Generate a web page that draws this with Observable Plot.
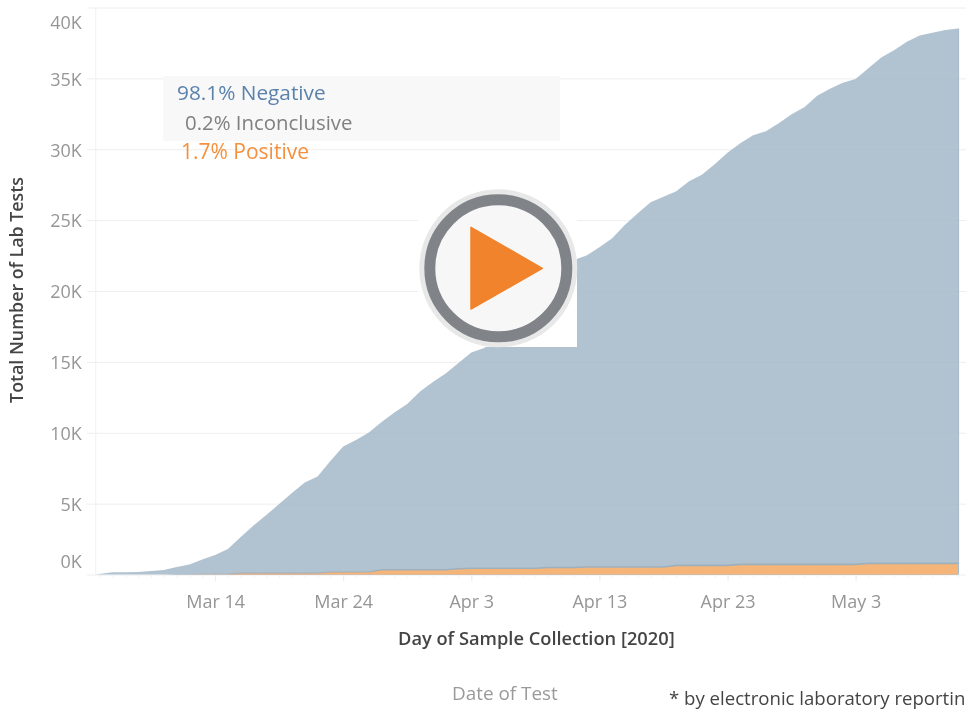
<!DOCTYPE html>
<html>
<head>
<meta charset="utf-8">
<script src="https://cdn.jsdelivr.net/npm/d3@7"></script>
<script src="https://cdn.jsdelivr.net/npm/@observablehq/plot@0.6"></script>
<style>
html,body{margin:0;padding:0;background:#fff}
#stage{position:relative;width:966px;height:713px;overflow:hidden;font-family:"Open Sans",sans-serif;filter:blur(0.45px)}
#stage svg{position:absolute;left:0;top:0;font-family:"Open Sans",sans-serif}
.t{position:absolute;white-space:nowrap;line-height:1}
</style>
</head>
<body>
<div id="stage"></div>
<script>
const days = ["2020-03-04T15:30","2020-03-06","2020-03-07","2020-03-08","2020-03-09","2020-03-10","2020-03-11","2020-03-12","2020-03-13","2020-03-14","2020-03-15","2020-03-16","2020-03-17","2020-03-18","2020-03-19","2020-03-20","2020-03-21","2020-03-22","2020-03-23","2020-03-24","2020-03-25","2020-03-26","2020-03-27","2020-03-28","2020-03-29","2020-03-30","2020-03-31","2020-04-01","2020-04-02","2020-04-03","2020-04-04","2020-04-05","2020-04-06","2020-04-07","2020-04-08","2020-04-09","2020-04-10","2020-04-11","2020-04-12","2020-04-13","2020-04-14","2020-04-15","2020-04-16","2020-04-17","2020-04-18","2020-04-19","2020-04-20","2020-04-21","2020-04-22","2020-04-23","2020-04-24","2020-04-25","2020-04-26","2020-04-27","2020-04-28","2020-04-29","2020-04-30","2020-05-01","2020-05-02","2020-05-03","2020-05-04","2020-05-05","2020-05-06","2020-05-07","2020-05-08","2020-05-09","2020-05-10","2020-05-11"];
const totalTests = [0,155,155,176,247,317,529,705,1058,1375,1798,2645,3455,4196,4972,5747,6488,6911,8004,9027,9485,10014,10754,11424,12023,12905,13575,14175,14915,15655,15973,16607,17242,18088,18935,19922,21050,22179,22496,23095,23730,24682,25493,26269,26657,27045,27750,28208,28949,29759,30429,30993,31275,31839,32475,32968,33779,34273,34696,34957,35718,36473,36988,37588,38025,38222,38420,38519];
const positiveTests = [0,0,0,0,0,0,0,0,10,10,10,70,70,70,70,70,70,70,140,140,140,140,280,280,280,280,280,280,350,390,390,390,390,390,390,440,440,440,480,480,480,480,480,480,480,580,580,580,580,580,650,650,650,650,650,650,650,650,650,650,720,720,720,720,720,720,720,720];
const inconclusiveTests = [0,0,0,0,0,0,40,40,40,40,40,70,70,70,70,70,70,70,70,70,70,70,110,110,110,110,110,110,110,110,110,110,110,110,110,110,110,110,110,110,110,110,110,110,110,130,130,130,130,130,130,130,130,130,130,130,130,130,130,130,130,130,130,130,130,130,130,130];
const yTicks = [5000,10000,15000,20000,25000,30000,35000];
const yEdgeTop = [40000];
const yEdgeBottom = [0];
const gridTicks = [0,5000,10000,15000,20000,25000,30000,35000,40000];
const xTickDays = ["2020-03-14","2020-03-24","2020-04-03","2020-04-13","2020-04-23","2020-05-03"];
const legendLines = ["98.1% Negative","0.2% Inconclusive","1.7% Positive"];

const parseDay = d3.timeParse("%Y-%m-%d");
const parse = s => s.includes("T") ? d3.timeParse("%Y-%m-%dT%H:%M")(s) : parseDay(s);
const xTicks = xTickDays.map(parseDay);
const minorDays = d3.timeDay.range(new Date(2020,2,5), new Date(2020,4,12));
const rows = days.map((d,i)=>({date:parse(d),pos:positiveTests[i],inc:positiveTests[i]+inconclusiveTests[i],total:totalTests[i]}));
const axisStart = parse("2020-03-04T15:30");
const kFmt = v => (v/1000)+"K";
const dFmt = d3.timeFormat("%b %-d");
const labelFill = "#969696";
const labelSize = 18;

const chart = Plot.plot({
  width:966,height:713,
  marginTop:7.5,marginBottom:138.5,marginLeft:87,marginRight:0,
  x:{type:"time",domain:[parse("2020-03-04T00:00"),new Date(2020,4,11,14,50)],axis:null},
  y:{domain:[0,40000],axis:null},
  style:{background:"transparent",overflow:"visible"},
  marks:[
    Plot.ruleY(gridTicks,{stroke:"#eeeeee",strokeWidth:1}),
    Plot.ruleX([axisStart],{y1:0,y2:40000,stroke:"#f0f0f0",strokeWidth:1}),
    Plot.axisX({ticks:minorDays,tickSize:3,tickFormat:()=>"",stroke:"#f0f0f0",label:null,anchor:"bottom"}),
    Plot.axisX({ticks:xTicks,tickSize:7,tickPadding:13,tickFormat:dFmt,stroke:"#ececec",fill:labelFill,fontSize:labelSize,label:null,anchor:"bottom"}),
    Plot.areaY(rows,{x:"date",y1:0,y2:"total",fill:"#a3b7c8",fillOpacity:0.85,curve:"linear"}),
    Plot.areaY(rows,{x:"date",y1:0,y2:"inc",fill:"#9fb0bd",curve:"linear"}),
    Plot.areaY(rows,{x:"date",y1:0,y2:"pos",fill:"#f5b478",curve:"linear"}),
    Plot.ruleX(rows.slice(-1),{x:"date",y1:0,y2:"total",stroke:"#a3b6c6",strokeWidth:1}),
    Plot.text(yTicks,{x:axisStart,y:d=>d,text:kFmt,textAnchor:"end",dx:-14,dy:1,fill:labelFill,fontSize:labelSize}),
    Plot.text(yEdgeTop,{x:axisStart,y:d=>d,text:kFmt,textAnchor:"end",dx:-14,dy:15,fill:labelFill,fontSize:labelSize}),
    Plot.text(yEdgeBottom,{x:axisStart,y:d=>d,text:kFmt,textAnchor:"end",dx:-14,dy:-12.5,fill:labelFill,fontSize:labelSize})
  ]
});
const stage = document.getElementById("stage");
stage.appendChild(chart);

function addText(txt,css){const el=document.createElement("div");el.className="t";el.textContent=txt;el.style.cssText+=css;stage.appendChild(el);return el;}
const box=document.createElement("div");
box.style.cssText="position:absolute;left:163px;top:76px;width:397px;height:65px;background:#f8f8f8";
stage.appendChild(box);
addText(legendLines[0],"left:177px;top:82px;font-size:20.8px;color:#5a82ac");
addText(legendLines[1],"left:185px;top:112px;font-size:20.4px;color:#808080");
addText(legendLines[2],"left:181px;top:141px;font-size:21px;color:#f5913e");
addText("Day of Sample Collection [2020]","left:398px;top:629px;font-size:18.25px;font-weight:600;color:#444");
addText("Date of Test","left:452px;top:684px;font-size:18.9px;color:#9a9a9a");
addText("* by electronic laboratory reportin","left:669px;top:689px;font-size:18.6px;color:#444");
addText("Total Number of Lab Tests","left:17px;top:290px;font-size:17.8px;font-weight:600;color:#444;transform:translate(-50%,-50%) rotate(-90deg)");

const ns="http://www.w3.org/2000/svg";
const ov=document.createElementNS(ns,"svg");
ov.setAttribute("width",966);ov.setAttribute("height",713);
ov.innerHTML=`<rect x="418" y="188" width="159" height="159" fill="#fff"/>
<circle cx="498.3" cy="268.3" r="79" fill="#e8e8e8"/>
<circle cx="498.3" cy="268.3" r="68.5" fill="#f7f7f7" stroke="#808488" stroke-width="11"/>
<path d="M471 227.3L542.3 268.3L471 309Z" fill="#f0832b" stroke="#f0832b" stroke-width="1.5" stroke-linejoin="round"/>`;
stage.appendChild(ov);
</script>
</body>
</html>
